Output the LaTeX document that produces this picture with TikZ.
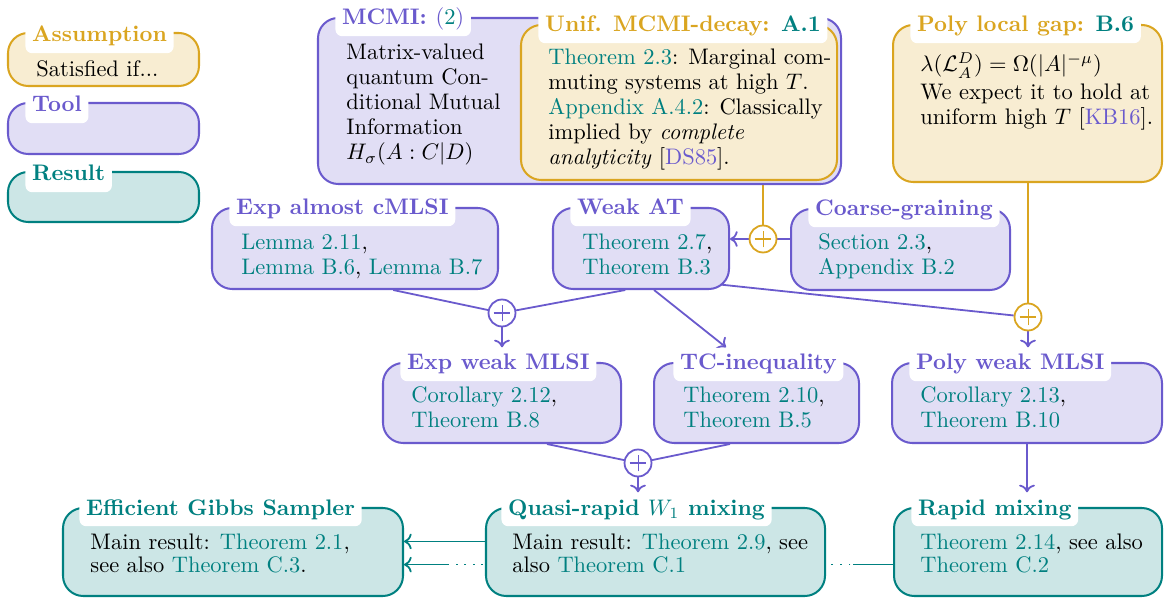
\documentclass[tikz,border=0pt]{standalone}
\usetikzlibrary{arrows.meta,fit,calc,backgrounds}
\definecolor{gold}{RGB}{218,165,32}
\definecolor{slate}{RGB}{106,90,205}
\definecolor{tealc}{RGB}{0,128,128}
\newcommand\myref[1]{\textcolor{tealc}{#1}}
\newcommand\mycite[1]{\textcolor{slate}{#1}}
\newcommand\bt[2][11.1pt]{\parbox[t]{220pt}{\fontsize{10pt}{#1}\selectfont\raggedright #2}}
\tikzset{
  box/.style={rounded corners=9pt, line width=0.9pt, inner sep=0pt},
  asmbox/.style={box, draw=gold, fill=gold!20},
  toolbox/.style={box, draw=slate, fill=slate!20},
  resbox/.style={box, draw=tealc, fill=tealc!20},
  ttl/.style={fill=white, rounded corners=3pt, inner xsep=3pt, inner ysep=3pt,
    text height=6.9pt, text depth=2pt, font=\bfseries, anchor=base west},
  asmttl/.style={ttl, text=gold},
  toolttl/.style={ttl, text=slate},
  resttl/.style={ttl, text=tealc},
  body/.style={inner sep=0pt, anchor=base west, text=black},
  oplus/.style={circle, fill=white, draw=#1, line width=0.8pt, minimum size=12pt, inner sep=0pt,
    path picture={\draw[#1, line width=0.45pt] (path picture bounding box.center) +(-3.7pt,0) -- +(3.7pt,0) +(0,-3.7pt) -- +(0,3.7pt);}},
  conn/.style={line width=0.8pt},
  arr/.style={conn, -{To[length=3.4pt,width=7pt]}},
  dotpat/.style={dash pattern=on 0.8pt off 3pt},
}
\begin{document}
\begin{tikzpicture}[x=0.445pt,y=-0.445pt]
\useasboundingbox (0,0) rectangle (1164,599);
% legend
\node[asmbox, fit={(8,33) (199,86)}] (lasm) {};
\node[asmttl] (lasmh) at (25,42) {Assumption};
\node[body] (lasmt) at (36,77) {Satisfied if...};
\node[toolbox, fit={(8,103) (199,154)}] (ltool) {};
\node[toolttl] (ltoolh) at (25,112) {Tool};
\node[resbox, fit={(8,172) (199,222)}] (lres) {};
\node[resttl] (lresh) at (25,181) {Result};
% MCMI
\node[toolbox, fit={(318,18) (841,184)}] (mcmi) {};
\node[toolttl] (mcmih) at (335,25) {MCMI: {\mdseries(\textcolor{tealc}{2})}};
\node[body] (mcmit) at (346,60) {\bt{Matrix-valued\\ quantum Con-\\ ditional Mutual\\ Information\\ $H_\sigma(A:C|D)$}};
% Unif
\node[asmbox, fit={(521,25) (837,180)}] (unif) {};
\node[asmttl] (unifh) at (538,32) {Unif. MCMI-decay: \textcolor{tealc}{A.1}};
\node[body] (unift) at (548,65) {\bt{\myref{Theorem 2.3}: Marginal com-\\ muting systems at high $T$.\\ \myref{Appendix A.4.2}: Classically\\ implied by \emph{complete}\\ \emph{analyticity} [\mycite{DS85}].}};
% Poly local gap
\node[asmbox, fit={(893,25) (1162,182)}] (pgap) {};
\node[asmttl] (pgaph) at (910,32) {Poly local gap: \textcolor{tealc}{B.6}};
\node[body] (pgapt) at (920,72) {\bt{$\lambda(\mathcal{L}_A^D)=\Omega(|A|^{-\mu})$\\[1pt] We expect it to hold at\\ uniform high $T$ [\mycite{KB16}].}};
% second row
\node[toolbox, fit={(212,208) (498,289)}] (eac) {};
\node[toolttl] (each) at (229,215) {Exp almost cMLSI};
\node[body] (eact) at (241,250) {\bt{\myref{Lemma 2.11},\\ \myref{Lemma B.6}, \myref{Lemma B.7}}};
\node[toolbox, fit={(553,208) (729,289)}] (weak) {};
\node[toolttl] (weakh) at (570,215) {Weak AT};
\node[body] (weakt) at (582,250) {\bt{\myref{Theorem 2.7},\\ \myref{Theorem B.3}}};
\node[toolbox, fit={(791,209) (1010,290)}] (coarse) {};
\node[toolttl] (coarseh) at (808,216) {Coarse-graining};
\node[body] (coarset) at (818,250) {\bt{\myref{Section 2.3},\\ \myref{Appendix B.2}}};
% third row
\node[toolbox, fit={(383,363) (621,443)}] (ewm) {};
\node[toolttl] (ewmh) at (400,370) {Exp weak MLSI};
\node[body] (ewmt) at (411,403) {\bt{\myref{Corollary 2.12},\\ \myref{Theorem B.8}}};
\node[toolbox, fit={(654,363) (859,443)}] (tc) {};
\node[toolttl] (tch) at (673,370) {TC-inequality};
\node[body] (tct) at (683,403) {\bt{\myref{Theorem 2.10},\\ \myref{Theorem B.5}}};
\node[toolbox, fit={(892,363) (1162,443)}] (pwm) {};
\node[toolttl] (pwmh) at (909,370) {Poly weak MLSI};
\node[body] (pwmt) at (920,403) {\bt{\myref{Corollary 2.13},\\ \myref{Theorem B.10}}};
% bottom row
\node[resbox, fit={(63,508) (403,596)}] (gibbs) {};
\node[resttl] (gibbsh) at (79,515) {Efficient Gibbs Sampler};
\node[body] (gibbst) at (90,549) {\bt[10.3pt]{Main result: \myref{Theorem 2.1},\\ see also \myref{Theorem C.3}.}};
\node[resbox, fit={(486,508) (825,596)}] (quasi) {};
\node[resttl] (qh) at (501,515) {Quasi-rapid $W_1$ mixing};
\node[body] (quasit) at (512,549) {\bt[10.3pt]{Main result: \myref{Theorem 2.9}, see\\ also \myref{Theorem C.1}}};
\node[resbox, fit={(894,508) (1162,596)}] (rapid) {};
\node[resttl] (rh) at (911,515) {Rapid mixing};
\node[body] (rapidt) at (920,549) {\bt[10.3pt]{\myref{Theorem 2.14}, see also\\ \myref{Theorem C.2}}};
% oplus nodes
\node[oplus=slate] (p1) at (502,313) {};
\node[oplus=gold] (p2) at (763,239) {};
\node[oplus=gold] (p3) at (1028,317) {};
\node[oplus=slate] (p4) at (638,463) {};
% connectors
\begin{scope}[on background layer]
  \draw[conn, gold] (unif.south -| p2) -- (p2);
  \draw[conn, slate] (coarse.west |- p2) -- (p2);
  \draw[arr, slate] (p2) -- (weak.east |- p2);
  \draw[conn, slate] ([xshift=17pt]eac.south) -- (p1);
  \draw[conn, slate] ([xshift=-7pt]weak.south) -- (p1);
  \draw[arr, slate] (p1) -- (p1 |- ewmh.north);
  \draw[arr, slate] ([xshift=5.8pt]weak.south) -- ($(tch.north west)+(53,0)$);
  \draw[conn, slate] ($(weak.south east)+(-15,-6)$) -- (p3);
  \draw[conn, gold] (pgap.south -| p3) -- (p3);
  \draw[arr, slate] (p3) -- (p3 |- pwmh.north);
  \draw[conn, slate] ([xshift=20pt]ewm.south) -- (p4);
  \draw[conn, slate] ([xshift=-11.8pt]tc.south) -- (p4);
  \draw[arr, slate] (p4) -- (p4 |- qh.north);
  \draw[arr, slate] (pwm) -- (pwm |- rh.north);
  \draw[arr, tealc] ([yshift=4.7pt]quasi.west) -- ([yshift=4.7pt]gibbs.east);
  \draw[conn, tealc, dotpat] ([yshift=-5.6pt]rapid.west) -- ([yshift=-5.6pt]gibbs.east);
  \draw[conn, tealc] ([yshift=-5.6pt]rapid.west) -- ++(-40,0);
  \draw[arr, tealc] ($([yshift=-5.6pt]gibbs.east)+(45,0)$) -- ([yshift=-5.6pt]gibbs.east);
\end{scope}
\end{tikzpicture}
\end{document}
